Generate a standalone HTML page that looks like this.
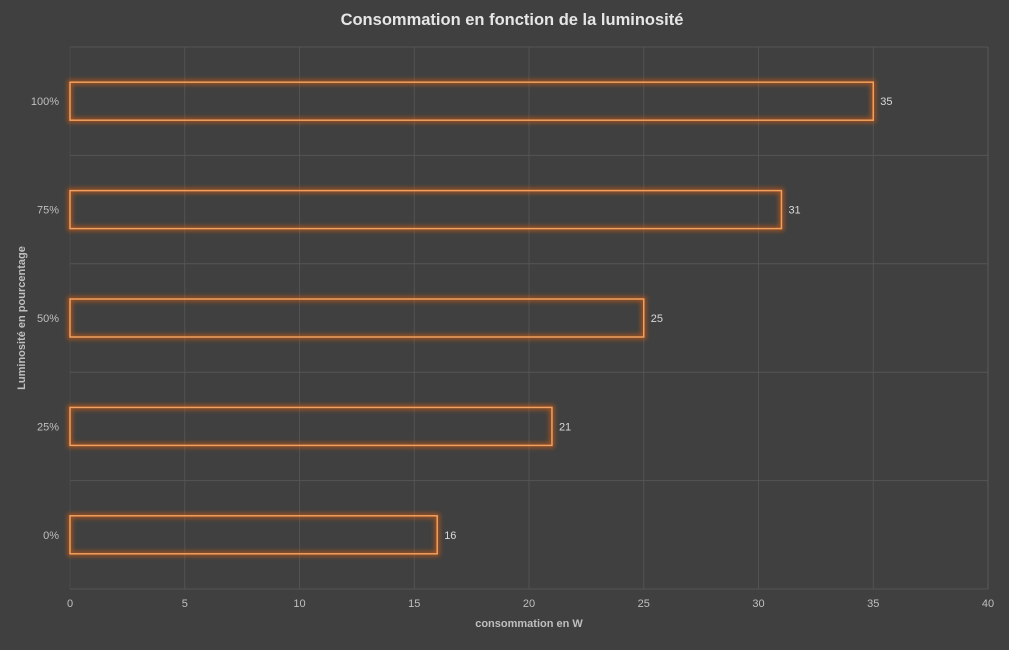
<!DOCTYPE html>
<html><head><meta charset="utf-8"><style>
body{margin:0;background:#404040;}
svg text{font-family:"Liberation Sans",sans-serif;}
</style></head><body>
<svg width="1009" height="645" xmlns="http://www.w3.org/2000/svg">
<defs><filter id="glow" x="-10%" y="-50%" width="120%" height="200%"><feGaussianBlur stdDeviation="2.5"/></filter></defs>
<rect width="1009" height="645" fill="#404040"/>
<text x="512" y="25" text-anchor="middle" font-size="16.5" font-weight="bold" fill="#e6e6e6">Consommation en fonction de la luminosité</text>
<g id="grid"></g><g id="bars"></g><g id="labels"></g>
<text x="529" y="627" text-anchor="middle" font-size="11" font-weight="bold" fill="#bfbfbf">consommation en W</text>
<text transform="translate(25,318) rotate(-90)" text-anchor="middle" font-size="11" font-weight="bold" fill="#bfbfbf">Luminosité en pourcentage</text>
</svg>
<script>
const categories=["0%","25%","50%","75%","100%"];
const values=[16,21,25,31,35];
const xTicks=[0,5,10,15,20,25,30,35,40];
const NS="http://www.w3.org/2000/svg";
const L=70,R=988,T=47,B=589,XMAX=40;
const x=v=>L+(R-L)*v/XMAX;
const band=(B-T)/categories.length;
const yc=i=>B-band*(i+0.5);
function mk(tag,attrs,parent){const e=document.createElementNS(NS,tag);for(const k in attrs)e.setAttribute(k,attrs[k]);document.getElementById(parent).appendChild(e);return e;}
xTicks.forEach(t=>{
 const g=mk("line",{x1:x(t),x2:x(t),y1:T,y2:B,stroke:t===0?"#4a4a4a":(t===XMAX?"#5a5a5a":"#525252"),"stroke-width":1},"grid");
 
 
 const tx=mk("text",{x:x(t),y:607,"text-anchor":"middle","font-size":11,fill:"#bfbfbf"},"labels");
 tx.textContent=t;
 
 
});
for(let i=0;i<=categories.length;i++){
 const g=mk("line",{x1:L,x2:R,y1:T+band*i,y2:T+band*i,stroke:"#555555","stroke-width":1},"grid");
 
 
}
const bh=38;
categories.forEach((c,i)=>{
 const y=yc(i)-bh/2;
 const gl=mk("rect",{x:x(0),y:y,width:x(values[i])-x(0),height:bh,fill:"none",stroke:"#c85a14","stroke-width":5,opacity:0.7,filter:"url(#glow)"},"bars");
 
 
 const b=mk("rect",{x:x(0),y:y,width:x(values[i])-x(0),height:bh,fill:"none",stroke:"#f0a060","stroke-width":1.5},"bars");
 
 
 const lab=mk("text",{x:x(values[i])+7,y:yc(i)+4,"font-size":11,fill:"#d9d9d9"},"labels");
 lab.textContent=values[i];
 
 
 const cl=mk("text",{x:59,y:yc(i)+4,"text-anchor":"end","font-size":11,fill:"#bfbfbf"},"labels");
 cl.textContent=c;
 
 
});
</script>
</body></html>
